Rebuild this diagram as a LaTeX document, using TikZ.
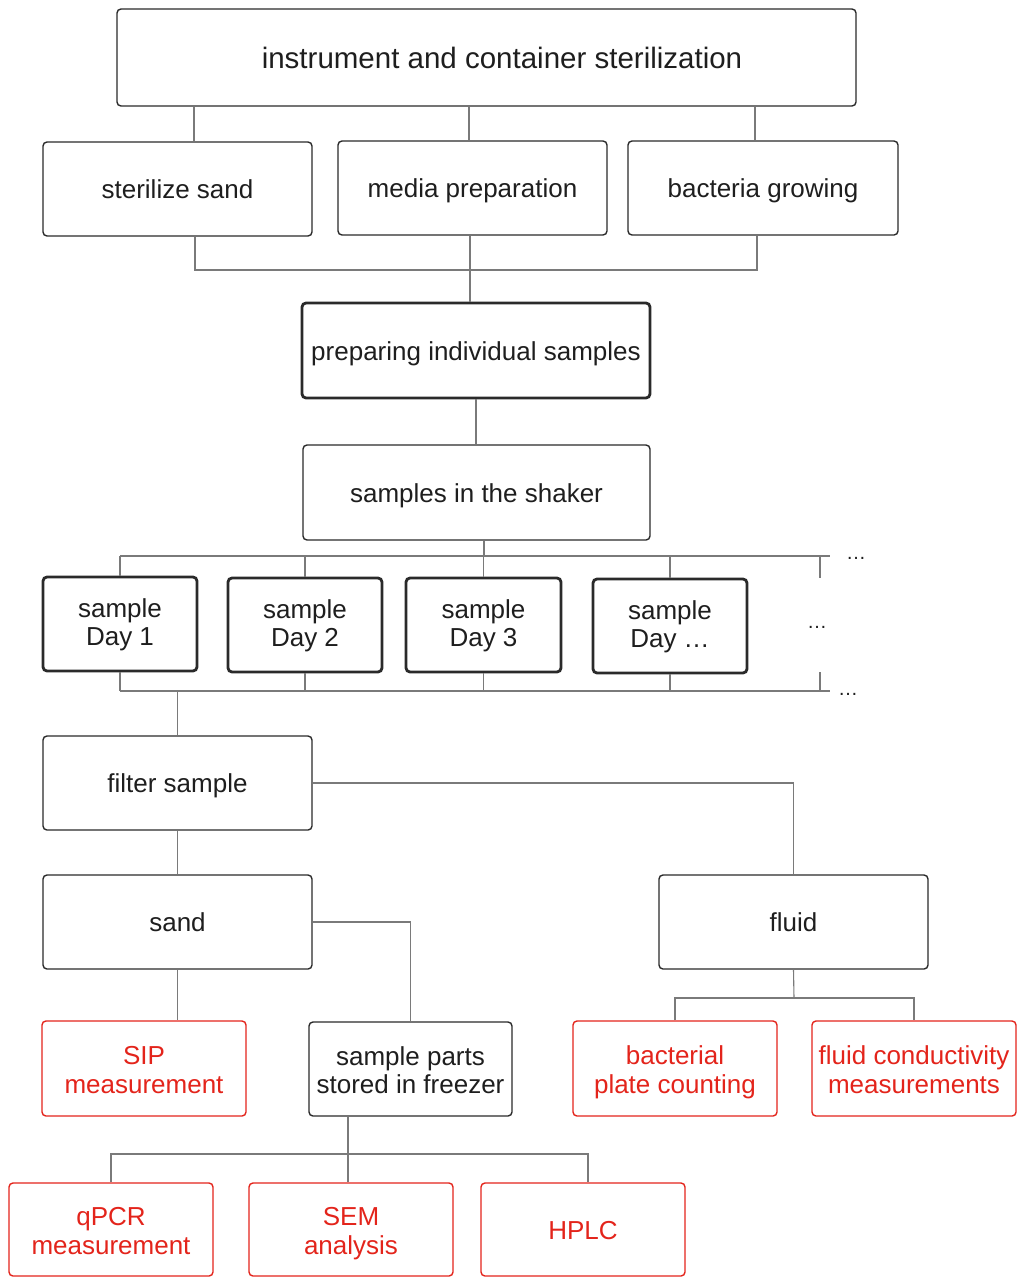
\documentclass[tikz,border=0pt]{standalone}
\usepackage{fontspec}
\setmainfont{Liberation Sans}
\definecolor{boxc}{HTML}{2A2A2A}
\definecolor{txt}{HTML}{1E1E1E}
\definecolor{linec}{HTML}{7A7A7A}
\definecolor{redc}{HTML}{E3241B}
\newcommand\twol[3][-10.8pt]{\raisebox{#1}[0pt][0pt]{\begin{tabular}{@{}c@{}}#2\\#3\end{tabular}}}
\begin{document}
\begin{tikzpicture}[x=1pt,y=-1pt,
  base/.style={draw=boxc, line width=1.4pt, rounded corners=4pt, inner sep=0pt, text=txt, font=\fontsize{26}{28.5}\selectfont},
  box/.style={base, execute at begin node={\rule{0pt}{\baselineskip}}, execute at end node={\rule[-0.3\baselineskip]{0pt}{0pt}}},
  thickbox/.style={base, line width=2.8pt},
  redbox/.style={base, draw=redc, text=redc},
  conn/.style={draw=linec, line width=1.1pt},
  dots/.style={text=txt, font=\fontsize{20}{20}\selectfont, inner sep=0pt}]
\useasboundingbox (0,0) rectangle (1020,1277);

% nodes
\node[box, minimum width=739, minimum height=97, font=\fontsize{29.5}{32}\selectfont] (top) at (486.5,57.5) {\hspace*{31pt}instrument and container sterilization};
\node[box, minimum width=269, minimum height=94] (sand0) at (177.5,189) {sterilize sand};
\node[box, minimum width=269, minimum height=94] (media) at (472.5,188) {media preparation};
\node[box, minimum width=270, minimum height=94] (bact) at (763,188) {bacteria growing};
\node[box, line width=2.8pt, minimum width=348, minimum height=95] (prep) at (476,350.5) {preparing individual samples};
\node[box, minimum width=347, minimum height=95] (shaker) at (476.5,492.5) {samples in the shaker};
\node[thickbox, minimum width=154, minimum height=94] (d1) at (120,624) {\twol[-8pt]{sample}{Day 1}};
\node[thickbox, minimum width=154, minimum height=94] (d2) at (305,625) {\twol[-8pt]{sample}{Day 2}};
\node[thickbox, minimum width=155, minimum height=94] (d3) at (483.5,625) {\twol[-8pt]{sample}{Day 3}};
\node[thickbox, minimum width=154, minimum height=94] (d4) at (670,626) {\twol[-8pt]{sample}{Day \ldots}};
\node[box, minimum width=269, minimum height=94] (filter) at (177.5,783) {filter sample};
\node[box, minimum width=269, minimum height=94] (sand) at (177.5,922) {sand};
\node[box, minimum width=269, minimum height=94] (fluid) at (793.5,922) {fluid};
\node[redbox, minimum width=204, minimum height=95] (sip) at (144,1068.5) {\twol{SIP}{measurement}};
\node[base, minimum width=203, minimum height=94] (freezer) at (410.5,1069) {\twol{sample parts}{stored in freezer}};
\node[redbox, minimum width=204, minimum height=95] (bpc) at (675,1068.5) {\twol{bacterial}{plate counting}};
\node[redbox, minimum width=204, minimum height=95] (fcm) at (914,1068.5) {\twol{fluid conductivity}{measurements}};
\node[redbox, minimum width=204, minimum height=93] (qpcr) at (111,1229.5) {\twol{qPCR}{measurement}};
\node[redbox, minimum width=204, minimum height=93] (sem) at (351,1229.5) {\twol{SEM}{analysis}};
\node[box, draw=redc, text=redc, minimum width=204, minimum height=93] (hplc) at (583,1229.5) {HPLC};

\node[dots] (dotsA) at (856,558) {\ldots};
\node[dots] (dotsB) at (817,627) {\ldots};
\node[dots] (dotsC) at (848,694) {\ldots};

% helper coordinates
\coordinate (bus1) at (470,270);
\coordinate (bus2) at (484,556);
\coordinate (bus2e) at (830,556);
\coordinate (bus3e) at (830,691);
\coordinate (brA) at (820,578);
\coordinate (brB) at (820,672);
\coordinate (bus4) at (794,998);
\coordinate (bus5) at (348,1154);

% connectors: top level
\draw[conn] ([xshift=16.5]sand0.north) -- ([xshift=16.5]sand0.north |- top.south);
\draw[conn] ([xshift=-3.5]media.north) -- ([xshift=-3.5]media.north |- top.south);
\draw[conn] ([xshift=-8]bact.north) -- ([xshift=-8]bact.north |- top.south);
\draw[conn] ([xshift=17.5]sand0.south) |- ([xshift=-6]bact.south |- bus1) -- ([xshift=-6]bact.south);
\draw[conn] ([xshift=-2.5]media.south) -- ([xshift=-6]prep.north);
\draw[conn] (prep.south) -- (prep.south |- shaker.north);
\draw[conn] ([xshift=7.5]shaker.south) -- (bus2);

% day buses
\draw[conn] (d1.north |- bus2) -- (bus2e);
\draw[conn] (d1.north) -- (d1.north |- bus2);
\draw[conn] (d2.north) -- (d2.north |- bus2);
\draw[conn] (d3.north) -- (d3.north |- bus2);
\draw[conn] (d4.north) -- (d4.north |- bus2);
\draw[conn] (d1.south |- bus3e) -- (bus3e);
\draw[conn] (d1.south) -- (d1.south |- bus3e);
\draw[conn] (d2.south) -- (d2.south |- bus3e);
\draw[conn] (d3.south) -- (d3.south |- bus3e);
\draw[conn] (d4.south) -- (d4.south |- bus3e);
\draw[conn] (brA |- bus2) -- (brA);
\draw[conn] (brB) -- (brB |- bus3e);

% lower tree
\draw[conn] (filter.north) -- (filter.north |- bus3e);
\draw[conn] (filter.east) -| (fluid.north);
\draw[conn] (filter.south) -- (sand.north);
\draw[conn] (sand.east) -| (freezer.north);
\draw[conn] (sand.south) -- (sand.south |- sip.north);
\draw[conn] (fluid.south) -- (bus4);
\draw[conn] (bpc.north) |- (bus4) -| (fcm.north);
\draw[conn] ([xshift=-3]sem.north) -- ([xshift=-3]sem.north |- freezer.south);
\draw[conn] (qpcr.north) |- ([xshift=5]hplc.north |- bus5) -- ([xshift=5]hplc.north);
\end{tikzpicture}
\end{document}
